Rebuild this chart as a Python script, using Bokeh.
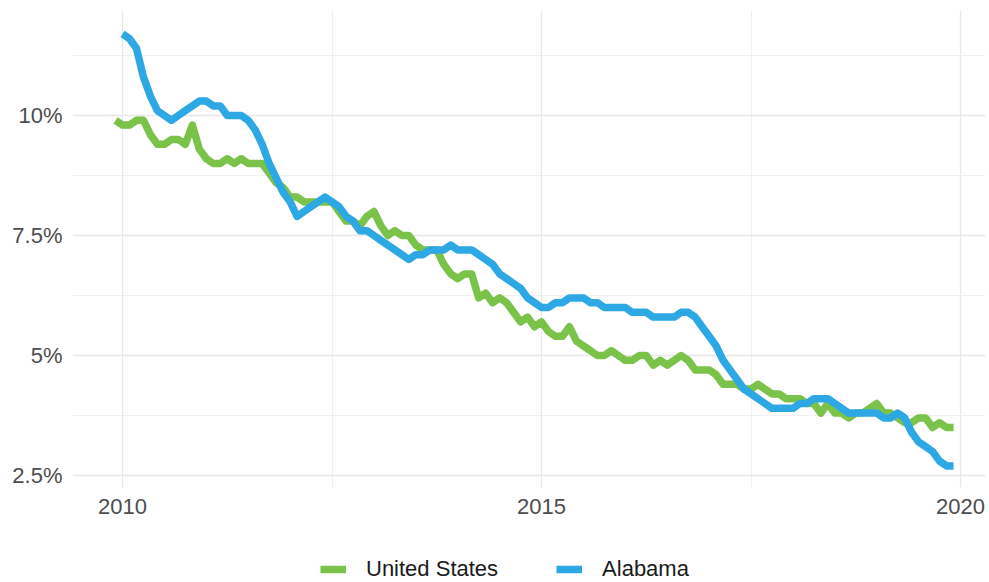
import numpy as np
from bokeh.plotting import figure
from bokeh.layouts import column
from bokeh.models import FixedTicker, Legend, LegendItem, ColumnDataSource
from bokeh.embed import file_html
from bokeh.resources import INLINE

# Monthly unemployment rate (%)
# United States: Dec 2009 - Dec 2019 ; Alabama: Jan 2010 - Dec 2019
us_first_month = 2009 + 11 / 12.0
al_first_month = 2010.0
us_rate = [
    9.9,
    9.8, 9.8, 9.9, 9.9, 9.6, 9.4, 9.4, 9.5, 9.5, 9.4, 9.8, 9.3,
    9.1, 9.0, 9.0, 9.1, 9.0, 9.1, 9.0, 9.0, 9.0, 8.8, 8.6, 8.5,
    8.3, 8.3, 8.2, 8.2, 8.2, 8.2, 8.2, 8.0, 7.8, 7.8, 7.7, 7.9,
    8.0, 7.7, 7.5, 7.6, 7.5, 7.5, 7.3, 7.2, 7.2, 7.2, 6.9, 6.7,
    6.6, 6.7, 6.7, 6.2, 6.3, 6.1, 6.2, 6.1, 5.9, 5.7, 5.8, 5.6,
    5.7, 5.5, 5.4, 5.4, 5.6, 5.3, 5.2, 5.1, 5.0, 5.0, 5.1, 5.0,
    4.9, 4.9, 5.0, 5.0, 4.8, 4.9, 4.8, 4.9, 5.0, 4.9, 4.7, 4.7,
    4.7, 4.6, 4.4, 4.4, 4.4, 4.3, 4.3, 4.4, 4.3, 4.2, 4.2, 4.1,
    4.1, 4.1, 4.0, 4.0, 3.8, 4.0, 3.8, 3.8, 3.7, 3.8, 3.8, 3.9,
    4.0, 3.8, 3.8, 3.7, 3.6, 3.6, 3.7, 3.7, 3.5, 3.6, 3.5, 3.5,
]
alabama_rate = [
    11.7, 11.6, 11.4, 10.8, 10.4, 10.1, 10.0, 9.9, 10.0, 10.1, 10.2, 10.3,
    10.3, 10.2, 10.2, 10.0, 10.0, 10.0, 9.9, 9.7, 9.4, 9.0, 8.7, 8.4,
    8.2, 7.9, 8.0, 8.1, 8.2, 8.3, 8.2, 8.1, 7.9, 7.8, 7.6, 7.6,
    7.5, 7.4, 7.3, 7.2, 7.1, 7.0, 7.1, 7.1, 7.2, 7.2, 7.2, 7.3,
    7.2, 7.2, 7.2, 7.1, 7.0, 6.9, 6.7, 6.6, 6.5, 6.4, 6.2, 6.1,
    6.0, 6.0, 6.1, 6.1, 6.2, 6.2, 6.2, 6.1, 6.1, 6.0, 6.0, 6.0,
    6.0, 5.9, 5.9, 5.9, 5.8, 5.8, 5.8, 5.8, 5.9, 5.9, 5.8, 5.6,
    5.4, 5.2, 4.9, 4.7, 4.5, 4.3, 4.2, 4.1, 4.0, 3.9, 3.9, 3.9,
    3.9, 4.0, 4.0, 4.1, 4.1, 4.1, 4.0, 3.9, 3.8, 3.8, 3.8, 3.8,
    3.8, 3.7, 3.7, 3.8, 3.7, 3.4, 3.2, 3.1, 3.0, 2.8, 2.7, 2.7,
]
series_names = ["United States", "Alabama"]
series_colors = ["#7BC24A", "#2DA8E4"]
x_ticks = [2010, 2015, 2020]
x_minor = [2012.5, 2017.5]
y_ticks = [2.5, 5, 7.5, 10]
y_minor = [3.75, 6.25, 8.75, 11.25]
y_labels = ["2.5%", "5%", "7.5%", "10%"]

us_x = us_first_month + np.arange(len(us_rate)) / 12.0
al_x = al_first_month + np.arange(len(alabama_rate)) / 12.0

FONT = "Liberation Sans"
LW = 7.5

p = figure(width=989, height=522, output_backend="svg", toolbar_location=None,
           x_range=(2009.4033, 2020.298), y_range=(2.25, 12.1875),
           min_border_left=72, min_border_top=10, min_border_right=4,
           min_border_bottom=35)
p.outline_line_color = None
p.background_fill_color = "white"

for xs, vals, col in zip([us_x, al_x], [us_rate, alabama_rate], series_colors):
    src = ColumnDataSource(dict(x=xs, y=vals))
    p.line("x", "y", source=src, line_color=col, line_width=LW,
           line_join="round", line_cap="butt")

p.xaxis.ticker = FixedTicker(ticks=x_ticks, minor_ticks=x_minor)
p.yaxis.ticker = FixedTicker(ticks=y_ticks, minor_ticks=y_minor)
p.yaxis.major_label_overrides = {t: l for t, l in zip(y_ticks, y_labels)}

for ax in (p.xaxis[0], p.yaxis[0]):
    ax.axis_line_color = None
    ax.major_tick_line_color = None
    ax.minor_tick_line_color = None
    ax.major_label_text_font = FONT
    ax.major_label_text_font_size = "22px"
    ax.major_label_text_color = "#4d4d4d"
p.yaxis.major_label_standoff = 4
p.xaxis.major_label_standoff = 5

for g in (p.xgrid[0], p.ygrid[0]):
    g.grid_line_color = "#e8e8e8"
    g.grid_line_width = 1.3
    g.minor_grid_line_color = "#f0f0f0"
    g.minor_grid_line_width = 1.0

# Legend strip below the plot (its frame is aligned with the main frame)
lf = figure(width=989, height=60, output_backend="svg", toolbar_location=None,
            x_axis_location=None, y_axis_location=None,
            x_range=(0, 1), y_range=(0, 1),
            min_border_left=0, min_border_right=0, min_border_top=0, min_border_bottom=0)
lf.outline_line_color = None
lf.xgrid.visible = False
lf.ygrid.visible = False
leg_renderers = []
for name, col in zip(series_names, series_colors):
    # off-screen stand-in so the legend can draw its swatch
    r = lf.line(x=[-5, -4], y=[-5, -5], line_color=col, line_width=LW)
    leg_renderers.append(r)

legend = Legend(items=[LegendItem(label=n, renderers=[r]) for n, r in zip(series_names, leg_renderers)],
                orientation="horizontal", location=(248, 0),
                label_text_font=FONT, label_text_font_size="22px",
                label_text_color="#1a1a1a", glyph_width=26, glyph_height=22,
                label_standoff=20, spacing=58, padding=0, margin=0,
                border_line_color=None, background_fill_alpha=0)
lf.add_layout(legend, "center")

layout = column(p, lf, spacing=0)
open("out.html", "w").write(file_html(layout, INLINE))
